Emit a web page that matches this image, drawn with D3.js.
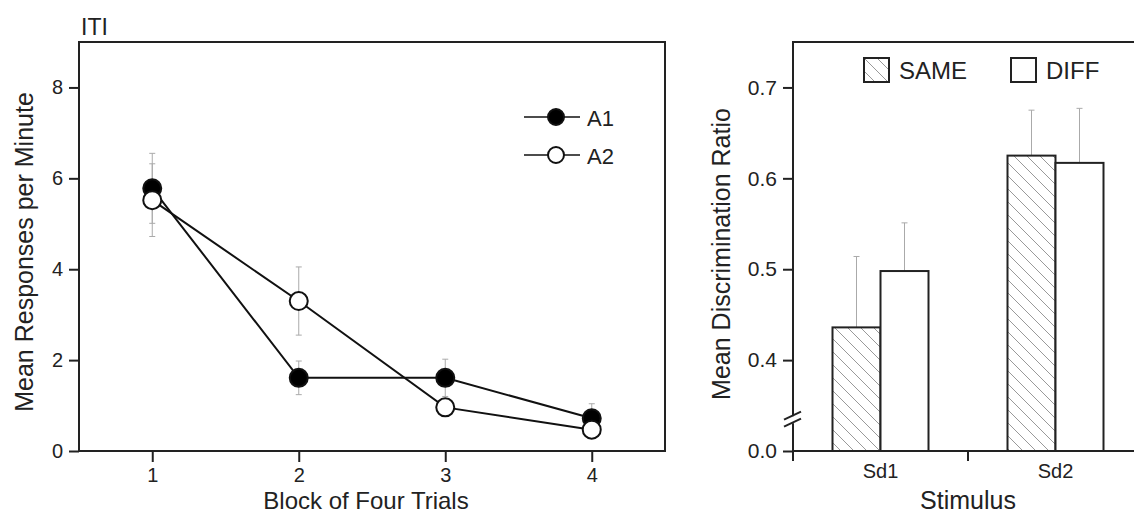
<!DOCTYPE html>
<html>
<head>
<meta charset="utf-8">
<script src="https://cdn.jsdelivr.net/npm/d3@7"></script>
<style>
  body { margin: 0; background: #fff; }
  svg { font-family: "Liberation Sans", Arial, sans-serif; }
</style>
</head>
<body>
<script>
// left panel data
const blocks = [1, 2, 3, 4]
const a1 = [5.78, 1.61, 1.61, 0.72]
const a1Err = [0.77, 0.37, 0.41, 0.32]
const a2 = [5.52, 3.3, 0.96, 0.47]
const a2Err = [0.8, 0.75, 0.1, 0.1]
const leftYTicks = [0, 2, 4, 6, 8]

// right panel data
const stimuli = ["Sd1", "Sd2"]
const conditions = ["SAME", "DIFF"]
const sameVals = [0.436, 0.625]
const sameErr = [0.078, 0.05]
const diffVals = [0.498, 0.617]
const diffErr = [0.053, 0.06]
const rightYTicks = [0.3, 0.4, 0.5, 0.6, 0.7]
const rightYLabels = ["0.0", "0.4", "0.5", "0.6", "0.7"]

const width = 1134
const height = 515
const tickFont = 20
const titleFont = 25

const svg = d3.select("body").append("svg")
  .attr("width", width)
  .attr("height", height)

const defs = svg.append("defs")
defs.append("pattern")
  .attr("id", "hatch")
  .attr("patternUnits", "userSpaceOnUse")
  .attr("width", 13)
  .attr("height", 13)
  .append("path")
  .attr("d", "M-3,-3 L16,16 M-3,10 L3,16 M10,-3 L16,3")
  .attr("stroke", "#999")
  .attr("stroke-width", 1)

// ---------- left panel ----------
const L = {left: 79, right: 665, top: 42, bottom: 451}

var x1 = d3.scaleLinear().domain([0.5, 4.5]).range([L.left, L.right])
var y1 = d3.scaleLinear().domain([0, 9]).range([L.bottom, L.top])

const left = svg.append("g")

left.append("rect")
  .attr("x", L.left).attr("y", L.top)
  .attr("width", L.right - L.left).attr("height", L.bottom - L.top)
  .attr("fill", "none").attr("stroke", "#222").attr("stroke-width", 2)

var gy1 = left.append("g")
  .attr("transform", "translate(" + L.left + ",0)")
  .call(d3.axisLeft(y1).tickValues(leftYTicks).tickSize(10).tickPadding(6).tickFormat(d3.format("d")))
var gx1 = left.append("g")
  .attr("transform", "translate(0," + L.bottom + ")")
  .call(d3.axisBottom(x1).tickValues(blocks).tickSize(11).tickPadding(6).tickFormat(d3.format("d")))

;[gy1, gx1].forEach(g => {
  g.select(".domain").remove()
  g.selectAll("line").attr("stroke", "#222").attr("stroke-width", 2)
  g.selectAll("text").attr("font-size", tickFont).attr("fill", "#222").attr("font-family", "Liberation Sans, Arial, sans-serif")
})

left.append("text")
  .attr("x", 81).attr("y", 35)
  .attr("font-size", 23).attr("fill", "#222")
  .text("ITI")

left.append("text")
  .attr("transform", "translate(33,252) rotate(-90)")
  .attr("text-anchor", "middle")
  .attr("font-size", titleFont).attr("fill", "#222")
  .text("Mean Responses per Minute")

left.append("text")
  .attr("x", (L.left + L.right) / 2 - 6).attr("y", 509)
  .attr("text-anchor", "middle")
  .attr("font-size", titleFont - 1).attr("fill", "#222")
  .text("Block of Four Trials")

const series = [
  {name: "A1", vals: a1, err: a1Err, fill: "#000"},
  {name: "A2", vals: a2, err: a2Err, fill: "#fff"}
]

// error bars
series.forEach(s => {
  const eb = left.append("g").attr("stroke", "#aaa").attr("stroke-width", 1)
  blocks.forEach((b, i) => {
    const cx = x1(b)
    const hi = y1(s.vals[i] + s.err[i])
    const lo = y1(s.vals[i] - s.err[i])
    eb.append("line").attr("x1", cx).attr("x2", cx).attr("y1", hi).attr("y2", lo)
    eb.append("line").attr("x1", cx - 3).attr("x2", cx + 3).attr("y1", hi).attr("y2", hi)
    eb.append("line").attr("x1", cx - 3).attr("x2", cx + 3).attr("y1", lo).attr("y2", lo)
  })
})

var line = d3.line().x((d, i) => x1(blocks[i])).y(d => y1(d))

series.slice().reverse().forEach(s => {
  left.append("path")
    .datum(s.vals)
    .attr("d", line)
    .attr("fill", "none")
    .attr("stroke", "#111")
    .attr("stroke-width", 2)
})
series.forEach(s => {
  left.selectAll(null)
    .data(s.vals)
    .enter()
    .append("circle")
    .attr("cx", (d, i) => x1(blocks[i]))
    .attr("cy", d => y1(d))
    .attr("r", 9)
    .attr("fill", s.fill)
    .attr("stroke", "#111")
    .attr("stroke-width", 2)
})

// legend
const lg = left.append("g")
series.forEach((s, i) => {
  const ly = 117 + i * 38
  lg.append("line").attr("x1", 524).attr("x2", 580).attr("y1", ly).attr("y2", ly)
    .attr("stroke", "#111").attr("stroke-width", 1.5)
  lg.append("circle").attr("cx", 556).attr("cy", ly).attr("r", 8)
    .attr("fill", s.fill).attr("stroke", "#111").attr("stroke-width", 2)
  lg.append("text").attr("x", 587).attr("y", ly + 9)
    .attr("font-size", 22).attr("fill", "#222").text(s.name)
})

// ---------- right panel ----------
const R = {left: 793, right: 1143, top: 42, bottom: 451}

var x2 = d3.scaleBand().domain(stimuli).range([R.left, R.right])
var y2 = d3.scaleLinear().domain([0.3, 0.75]).range([R.bottom, R.top])
const barW = 48

const right = svg.append("g")

// error bars (up only)
const rows = stimuli.map((s, i) => [
  {cat: s, cond: "SAME", v: sameVals[i], e: sameErr[i]},
  {cat: s, cond: "DIFF", v: diffVals[i], e: diffErr[i]}
]).flat()

const bx = d => x2(d.cat) + x2.bandwidth() / 2 + (d.cond === "SAME" ? -barW : 0)

const ebr = right.append("g").attr("stroke", "#aaa").attr("stroke-width", 1)
rows.forEach(d => {
  const cx = bx(d) + barW / 2
  ebr.append("line").attr("x1", cx).attr("x2", cx).attr("y1", y2(d.v)).attr("y2", y2(d.v + d.e))
  ebr.append("line").attr("x1", cx - 3).attr("x2", cx + 3).attr("y1", y2(d.v + d.e)).attr("y2", y2(d.v + d.e))
})

right.selectAll("rect.bar")
  .data(rows)
  .enter()
  .append("rect")
  .attr("class", "bar")
  .attr("x", bx)
  .attr("y", d => y2(d.v))
  .attr("width", barW)
  .attr("height", d => R.bottom - y2(d.v))
  .attr("fill", d => d.cond === "SAME" ? "url(#hatch)" : "#fff")
  .attr("stroke", "#222")
  .attr("stroke-width", 2)

// frame: top, left, bottom
right.append("path")
  .attr("d", "M" + width + "," + R.top + " H" + R.left + " V" + R.bottom + " H" + width)
  .attr("fill", "none").attr("stroke", "#222").attr("stroke-width", 2)

var gy2 = right.append("g")
  .attr("transform", "translate(" + R.left + ",0)")
  .call(d3.axisLeft(y2).tickValues(rightYTicks).tickSize(10).tickPadding(6)
    .tickFormat((d, i) => rightYLabels[i]))
gy2.select(".domain").remove()
gy2.selectAll("line").attr("stroke", "#222").attr("stroke-width", 2)
gy2.selectAll("text").attr("font-size", tickFont + 1).attr("fill", "#222").attr("font-family", "Liberation Sans, Arial, sans-serif")

// x ticks at band edges, labels at band centres
const xb = right.append("g")
stimuli.forEach(s => {
  xb.append("line").attr("x1", x2(s)).attr("x2", x2(s))
    .attr("y1", R.bottom).attr("y2", R.bottom + 10)
    .attr("stroke", "#222").attr("stroke-width", 2)
  xb.append("text").attr("x", x2(s) + x2.bandwidth() / 2).attr("y", 478)
    .attr("text-anchor", "middle").attr("font-size", tickFont).attr("fill", "#222").text(s)
})

// axis break
const yb = y2(0.335)
right.append("rect").attr("x", R.left - 3).attr("y", yb - 3).attr("width", 6).attr("height", 7).attr("fill", "#fff")
;[-3.5, 3.5].forEach(o => {
  right.append("line")
    .attr("x1", R.left - 9).attr("x2", R.left + 8)
    .attr("y1", yb + o + 4).attr("y2", yb + o - 4)
    .attr("stroke", "#222").attr("stroke-width", 2)
})

right.append("text")
  .attr("transform", "translate(730,254) rotate(-90)")
  .attr("text-anchor", "middle")
  .attr("font-size", titleFont).attr("fill", "#222")
  .text("Mean Discrimination Ratio")

right.append("text")
  .attr("x", 968).attr("y", 509)
  .attr("text-anchor", "middle")
  .attr("font-size", titleFont).attr("fill", "#222")
  .text("Stimulus")

// legend
const rl = right.append("g")
conditions.forEach((c, i) => {
  const lx = 864 + i * 147
  rl.append("rect").attr("x", lx).attr("y", 58).attr("width", 25).attr("height", 24)
    .attr("fill", c === "SAME" ? "url(#hatch)" : "#fff")
    .attr("stroke", "#222").attr("stroke-width", 2)
  rl.append("text").attr("x", lx + 35).attr("y", 79)
    .attr("font-size", 24).attr("fill", "#222").text(c)
})
</script>
</body>
</html>
